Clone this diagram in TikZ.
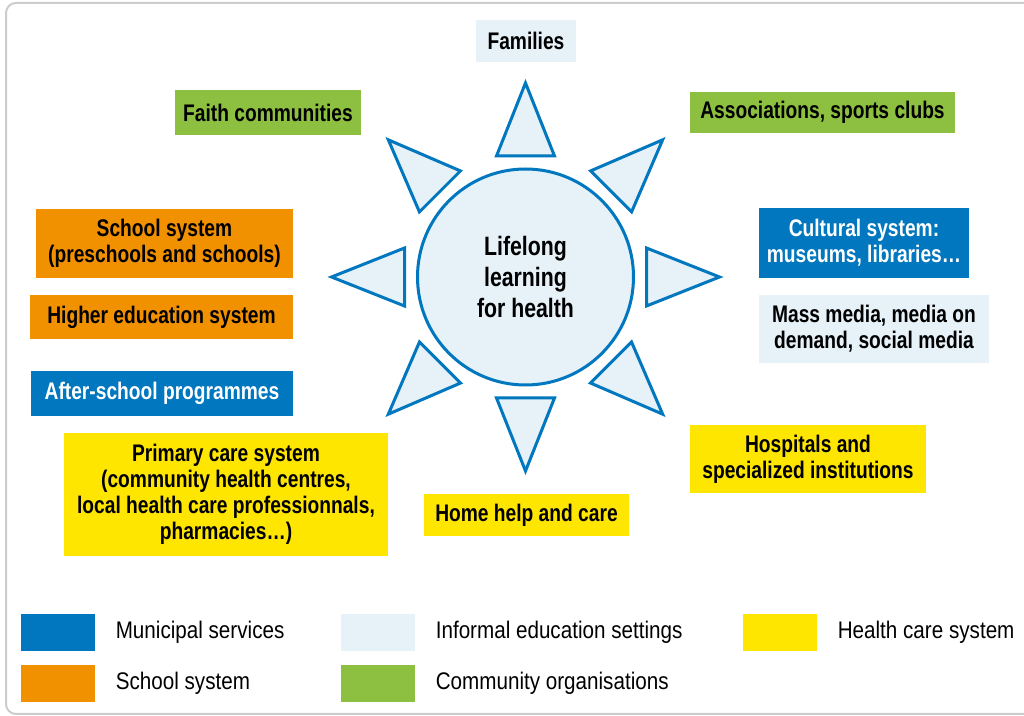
\documentclass[tikz,border=0pt]{standalone}
\usepackage{fontspec}
\setmainfont{Liberation Sans}[FakeStretch=0.86]
\newfontfamily\labelfont{Liberation Sans}[FakeStretch=0.8]
\usetikzlibrary{positioning,calc}
\definecolor{municipal}{RGB}{0,119,190}
\definecolor{informal}{RGB}{230,241,248}
\definecolor{health}{RGB}{255,230,0}
\definecolor{school}{RGB}{242,145,0}
\definecolor{community}{RGB}{141,192,64}
\begin{document}
\begin{tikzpicture}[x=0.5pt,y=-0.5pt,every node/.append style={inner sep=0pt},
    tag/.style={rectangle,align=center,font=\labelfont\bfseries\fontsize{12}{13}\selectfont},
    key/.style={rectangle,minimum width=37pt,minimum height=18.5pt},
    keytext/.style={font=\fontsize{12}{14}\selectfont},
    ray/.style={draw=municipal,fill=informal,line width=1.5pt}]
      \useasboundingbox (0,0) rectangle (1024,716);
      \draw [black!20,line width=1pt,rounded corners=5pt] (6,3) rectangle (1034,714);

      \node[circle,draw=municipal,fill=informal,line width=1.5pt,minimum size=108pt,align=center,
        font=\labelfont\bfseries\fontsize{13.3}{15.5}\selectfont] (Hub) at (525.5,277) {Lifelong\\learning\\for health};
      \foreach \a in {0,45,...,315}
        \draw [ray] ($(Hub)+(\a:121)+(\a+90:29)$)--($(Hub)+(\a:194)$)--($(Hub)+(\a:121)+(\a-90:29)$)--cycle;

      \node[tag,fill=informal,minimum width=50pt,minimum height=21pt] (Families) at (526,41) {Families};
      \node[tag,fill=community,minimum width=93pt,minimum height=22.5pt] (Faith) at (268,113) {Faith communities};
      \node[tag,fill=community,minimum width=132.5pt,minimum height=20.5pt] (Associations) at (822.5,112.5) {Associations, sports clubs};
      \node[tag,fill=school,minimum width=128.5pt,minimum height=34.5pt] (School) at (164.5,243.5) {School system\\(preschools and schools)};
      \node[tag,fill=school,minimum width=131.5pt,minimum height=22pt] (Higher) at (161.5,317) {Higher education system};
      \node[tag,fill=municipal,text=white,minimum width=131pt,minimum height=22.5pt] (AfterSchool) at (162,393.5) {After-school programmes};
      \node[tag,fill=health,minimum width=162pt,minimum height=61.5pt] (Primary) at (226,494.5) {Primary care system\\(community health centres,\\local health care professionnals,\\pharmacies…)};
      \node[tag,fill=health,minimum width=102.5pt,minimum height=21pt] (Home) at (526.5,515) {Home help and care};
      \node[tag,fill=health,minimum width=118pt,minimum height=34pt] (Hospitals) at (808,459) {Hospitals and\\specialized institutions};
      \node[tag,fill=municipal,text=white,minimum width=105pt,minimum height=35pt] (Cultural) at (864,243) {Cultural system:\\museums, libraries…};
      \node[tag,fill=informal,minimum width=115pt,minimum height=34pt] (Media) at (874,329) {Mass media, media on\\demand, social media};

      \node[key,fill=municipal] (KeyMunicipal) at (58,632.5) {};
      \node[key,fill=school] (KeySchool) at (58,683.5) {};
      \node[key,fill=informal] (KeyInformal) at (378,632.5) {};
      \node[key,fill=community] (KeyCommunity) at (378,683.5) {};
      \node[key,fill=health] (KeyHealth) at (780,632.5) {};
      \node[keytext,right=10pt of KeyMunicipal] (TextMunicipal) {Municipal services};
      \node[keytext,right=10pt of KeySchool] (TextSchool) {School system};
      \node[keytext,right=10pt of KeyInformal] (TextInformal) {Informal education settings};
      \node[keytext,right=10pt of KeyCommunity] (TextCommunity) {Community organisations};
      \node[keytext,right=10pt of KeyHealth] (TextHealth) {Health care system};
    \end{tikzpicture}
\end{document}
